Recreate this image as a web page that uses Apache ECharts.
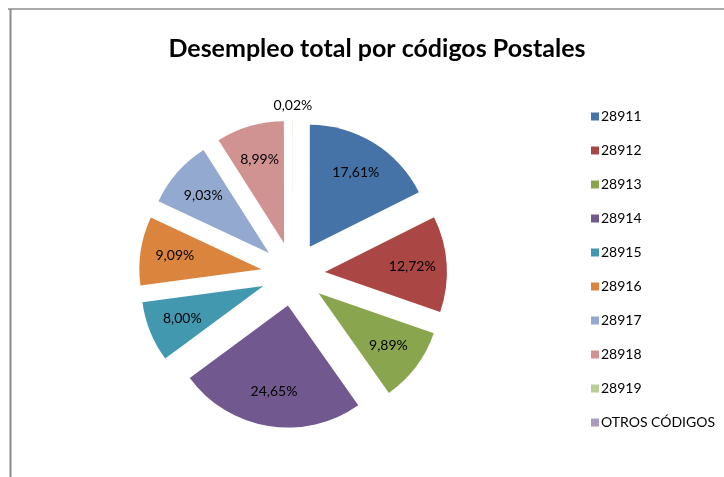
<!DOCTYPE html>
<html>
<head>
<meta charset="utf-8">
<script src="https://cdn.jsdelivr.net/npm/echarts@6/dist/echarts.min.js"></script>
<style>
  html, body { margin: 0; padding: 0; background: #fff; }
  #chart { width: 724px; height: 477px; }
</style>
</head>
<body>
<div id="chart"></div>
<script>
const codes = ['28911', '28912', '28913', '28914', '28915', '28916', '28917', '28918', '28919', 'OTROS CÓDIGOS']
const percents = [17.61, 12.72, 9.89, 24.65, 8.00, 9.09, 9.03, 8.99, 0.02, 0]
const colors = ['#4572A7', '#AA4643', '#89A54E', '#71588F', '#4198AF', '#DB843D', '#93A9CF', '#D19392', '#B9CD96', '#A99BBD']

const fmt = v => v.toFixed(2).replace('.', ',') + '%'
const font = 'Lato, "Open Sans", sans-serif'
const center = [293, 274]
const explode = 32

const makeData = (labelFor) => codes.map((name, i) => ({
  name,
  value: percents[i],
  selected: true,
  label: { show: labelFor(i) }
}))

const chart = echarts.init(document.getElementById('chart'))

const option = {
  animation: false,
  color: colors,
  title: {
    text: 'Desempleo total por códigos Postales',
    left: 372,
    textAlign: 'center',
    top: 31,
    textStyle: { fontFamily: font, fontSize: 25, fontWeight: 'bold', color: '#000' }
  },
  legend: {
    orient: 'vertical',
    left: 586,
    top: 104,
    icon: 'rect',
    itemWidth: 8,
    itemHeight: 8,
    itemGap: 19,
    data: codes,
    textStyle: { fontFamily: font, fontSize: 14, lineHeight: 15, color: '#000', padding: [0, 0, 0, -3] }
  },
  graphic: [
    { type: 'line', shape: { x1: 8, y1: 9, x2: 724, y2: 9 }, style: { stroke: '#8c8c8c', lineWidth: 1.5 } },
    { type: 'line', shape: { x1: 10.5, y1: 9, x2: 10.5, y2: 477 }, style: { stroke: '#8c8c8c', lineWidth: 2 } }
  ],
  series: [
    {
      // colored wedges
      type: 'pie',
      center,
      radius: [0, 122],
      selectedMode: 'multiple',
      selectedOffset: explode,
      startAngle: 90,
      clockwise: true,
      avoidLabelOverlap: false,
      label: { show: false },
      labelLine: { show: false },
      emphasis: { disabled: true },
      data: makeData(() => false)
    },
    {
      // transparent ring that carries the inner labels
      type: 'pie',
      center,
      radius: [47, 122],
      selectedMode: 'multiple',
      selectedOffset: explode,
      silent: true,
      avoidLabelOverlap: false,
      itemStyle: { color: 'rgba(0,0,0,0)' },
      label: {
        position: 'inside',
        fontFamily: font,
        fontSize: 14,
        color: '#000',
        formatter: p => fmt(p.value)
      },
      labelLine: { show: false },
      emphasis: { disabled: true },
      data: makeData(i => i < 8)
    },
    {
      // label for the tiny slice, placed just outside the pie
      type: 'pie',
      center,
      radius: [128, 140],
      selectedMode: 'multiple',
      selectedOffset: explode,
      silent: true,
      avoidLabelOverlap: false,
      itemStyle: { color: 'rgba(0,0,0,0)' },
      label: {
        position: 'inside',
        fontFamily: font,
        fontSize: 14,
        color: '#000',
        formatter: p => fmt(p.value)
      },
      labelLine: { show: false },
      emphasis: { disabled: true },
      data: makeData(i => i === 8)
    }
  ]
}

chart.setOption(option)
</script>
</body>
</html>
